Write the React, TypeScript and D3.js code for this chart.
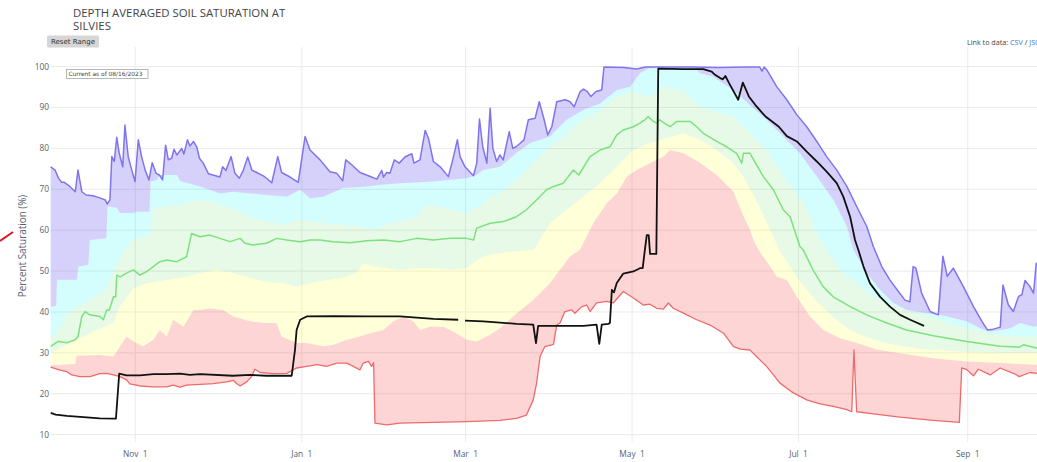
import React, { useRef, useEffect } from 'react';
import * as d3 from 'd3';

// x = day of water year (0 = Oct 1), y = percent saturation
const maxSeries: [number, number][] = [
  [0, 75.5], [1.6, 74.7], [2.8, 72.8], [4, 71.7], [5, 71.7], [7, 70.7], [9, 69.4], [10, 74.7], [11.4, 69.4], [13, 68.6],
  [15.5, 68.4], [18, 67.9], [20, 67.4], [20.7, 66.4], [21.7, 67.4], [22.4, 78], [23.3, 76.8], [24.2, 82.7], [25.1, 78.8], [26.4, 75.5],
  [27.2, 85.7], [28.4, 78], [29.7, 74.7], [30.9, 71.9], [32.1, 82.1], [33.3, 78], [34.6, 74.7], [36, 72.3], [37.2, 76.5], [38.6, 73.9],
  [39.8, 73.5], [41, 72.3], [42.1, 80.8], [43.1, 77.2], [44.3, 77.6], [45.2, 79.8], [46.2, 78.4], [48, 80], [48.8, 78.6], [50.1, 82.1],
  [51, 80.6], [52.3, 81.7], [53.5, 80.4], [54.5, 77.6], [55.9, 76.4], [57.8, 73.8], [62, 73], [63, 75.5], [64.2, 74.6], [66.1, 78],
  [67.5, 73.9], [69.1, 72.7], [70.6, 74.7], [72.2, 77.9], [73.7, 74.7], [75.5, 74.1], [77.9, 73.3], [79.1, 72.7], [81, 71.6], [83.2, 78],
  [84.6, 74.1], [87.7, 73], [90.7, 71.7], [93.2, 82.9], [95, 79.6], [98.7, 77.2], [102.3, 74.3], [104.8, 73.9], [107, 72.1], [108.1, 77.2],
  [110.3, 76], [113.3, 74.1], [116.4, 73.3], [119.5, 72.5], [121.3, 74.6], [121.9, 73], [123.1, 74.1], [124.3, 73.9], [125.9, 77.2], [127.7, 76.4],
  [129.8, 77.9], [132.3, 78.7], [133.1, 76.4], [135.3, 77.2], [137.2, 84.4], [138.4, 82.5], [140.2, 76.8], [142.7, 75.5], [145.7, 73.1], [147.3, 77.2],
  [149, 82.1], [150, 78], [151.8, 75.5], [154.9, 73.3], [156.1, 76.4], [157.1, 87.2], [158.3, 80.4], [159.8, 76.4], [161, 89.8], [162, 80],
  [163.4, 76.8], [164.6, 78.4], [165.8, 77.2], [168, 84.1], [169.3, 80], [170.5, 80.4], [171.9, 81.2], [173.4, 82.1], [175, 87], [177.5, 87.4],
  [179, 91.4], [180.8, 87], [182.1, 83.3], [183.6, 85.3], [185.4, 91.4], [188.5, 91.9], [190.3, 91.4], [191.8, 90.2], [194, 93.9], [195.2, 94.5],
  [196.6, 93.9], [197.9, 92.7], [199.8, 93.9], [201.9, 94.3], [202.7, 99.9], [210, 99.8], [214.7, 99.4], [218, 99.9], [235, 99.9], [245, 99.8],
  [255, 99.9], [259.8, 99.9], [260.6, 98.9], [261.4, 99.9], [262.4, 99.2], [266, 95.1], [269.7, 91.9], [273.4, 88.2], [277, 85.3], [280.7, 81.7],
  [284.3, 78], [288, 74.7], [291.7, 70.7], [295.3, 65.8], [299, 60.9], [301.4, 56], [304.5, 51.1], [307.5, 47.8], [310.6, 45], [313, 42.9],
  [314.8, 42.5], [316, 51.1], [317, 50.7], [319.1, 44.6], [322.2, 40.1], [325.2, 39.3], [326.9, 53.6], [328.5, 48.7], [330.7, 50.7], [334.4, 46.2],
  [338.1, 41.3], [341.2, 37.7], [343.2, 35.6], [345.4, 35.8], [347.9, 36.3], [348.9, 46.6], [350.9, 41.7], [352.7, 40.1], [354.6, 43.8], [355.8, 44.2],
  [357, 47.7], [358.8, 46.2], [360.1, 44.6], [361.1, 51.9], [363, 50.5], [365, 49],
];

const p90Series: [number, number][] = [
  [0, 41.3], [2, 41.5], [2.3, 47.9], [9.6, 47.9], [10.1, 51.1], [13.8, 51.5], [14.3, 57.6], [20.4, 58], [20.8, 65.8], [24.2, 65.5],
  [25.4, 64.2], [30.2, 64.2], [31.6, 64.5], [36.2, 64.5], [36.6, 71.9], [38.9, 72.3], [40, 73.5], [46.3, 73.5], [47.4, 72], [54.7, 70.7],
  [58.3, 69.9], [62, 69], [66.9, 69.4], [73, 69], [79.1, 68.6], [86.5, 68.2], [91.4, 69.9], [95, 67.8], [99.9, 68.2], [107.1, 70.3],
  [115.8, 70.7], [120.7, 71.1], [128, 71.5], [140.2, 71.9], [152.4, 72.7], [156.1, 73.5], [158.5, 74.7], [164.6, 75.5], [170.5, 78.8], [175.7, 81.3],
  [182.9, 82.9], [189, 87], [195.1, 89.4], [201.3, 91], [207.4, 94.3], [212.3, 95.1], [215.9, 98.4], [219.6, 99.8], [236, 99.7], [237.9, 98.4],
  [242.6, 97.6], [250, 94.3], [256.2, 90.6], [262.3, 87], [268.4, 82.9], [274.5, 78.8], [280.7, 73.1], [286.8, 67.4], [291.7, 60.9], [294.1, 55.2],
  [299, 49.5], [303.9, 45.4], [308.8, 42.2], [313.6, 40.5], [320.9, 39.7], [325.8, 39.3], [330.7, 38.5], [335.6, 37.7], [340.5, 36], [344.2, 35.2],
  [347.9, 35.6], [351.5, 36], [355.2, 37.3], [360.1, 36.4], [365, 37],
];

const p70Series: [number, number][] = [
  [0, 33.5], [2.8, 35.6], [5.9, 39.7], [9.5, 41.3], [13.2, 42.5], [16.9, 43.7], [20.5, 45.8], [23, 50], [26, 54], [29, 57],
  [32, 58.3], [36.5, 58.5], [37.5, 65.5], [45, 66], [54.7, 67.4], [60.8, 66.6], [66.9, 65], [73, 63.3], [79.1, 62.1], [85.2, 61.3],
  [90.1, 62.5], [95, 62.1], [101.1, 61.7], [107.1, 61.3], [113.3, 60.9], [119.4, 60.1], [123.1, 61.7], [128, 62.1], [134.1, 63.3], [137.8, 66.2],
  [142.6, 65.8], [147.5, 65], [152.4, 64.2], [157.3, 65.8], [160.9, 68.2], [164.6, 69], [170.7, 72.3], [176.8, 76.4], [182.9, 80.4], [189, 83.7],
  [195.1, 87], [201.3, 89.4], [207.4, 92.7], [213.5, 93.9], [219.6, 92.7], [225.7, 95.1], [231.8, 94], [237.9, 90.2], [250.1, 87.8], [256.2, 83.7],
  [262.3, 79.6], [268.4, 73.1], [274.5, 68.2], [278.2, 63.3], [281.9, 57.6], [284.3, 55.2], [289.2, 50.3], [296.5, 46.2], [303.9, 43], [311.2, 40.9],
  [323.4, 38.5], [335.6, 36], [347.9, 34.2], [360.1, 34], [365, 34],
];

const medianSeries: [number, number][] = [
  [0, 31.6], [2.8, 32.8], [6, 32.5], [9, 33.2], [10, 34], [11.4, 38.9], [12.6, 40.1], [14.4, 39.3], [18, 38.9], [19.3, 38.1],
  [20.5, 40.5], [21.5, 40.5], [23, 43.7], [23.8, 43.7], [24.2, 49], [25.4, 48.6], [27.8, 49.5], [30.3, 50.3], [32.7, 49], [35.2, 49.9],
  [37.6, 51.1], [40, 52.3], [42.5, 52.7], [46.2, 52.3], [49.8, 53.5], [51.6, 59.2], [54.7, 58.4], [58.3, 58.8], [62, 58], [65.7, 57.2],
  [69.4, 58], [71.2, 56.8], [74.2, 56.4], [79.1, 56.8], [82.8, 58], [86.5, 57.6], [91.4, 57.2], [95, 57.6], [98.7, 57.6], [103.5, 57.2],
  [109.7, 56.9], [115.8, 57.4], [121.9, 57.6], [128, 57.2], [134.1, 58], [140.2, 57.6], [146.3, 58], [152.4, 58], [154.9, 57.6], [156.1, 60.5],
  [161, 61.7], [165.8, 62.1], [170.7, 63.3], [174.3, 65], [178, 67.4], [181.7, 69.9], [184.2, 70.7], [187.8, 71.5], [191.5, 74.7], [193.5, 73.5],
  [197.6, 78], [201.3, 79.6], [204.9, 80.4], [207.4, 83.3], [209.8, 84.5], [213.5, 85.3], [215.9, 86.2], [217.7, 87], [218.9, 87.8], [220.8, 86.6],
  [222, 86.2], [223.2, 87], [224.5, 86.3], [226.9, 85.3], [229.4, 86.6], [231.8, 86.6], [234.3, 86.6], [236.7, 85.3], [239.1, 83.7], [244, 81.7],
  [247.7, 80.4], [251.3, 78.8], [253.2, 76.4], [253.8, 78.8], [256.2, 78.8], [261.1, 73.1], [264.8, 69.9], [268.4, 65], [270.9, 63.3], [274.5, 56],
  [275.7, 55.2], [279.3, 50.3], [283, 46.2], [286.7, 43.7], [292.9, 41.3], [299, 39.3], [306.3, 37.3], [313.6, 35.6], [323.4, 34.2], [335.6, 32.8],
  [347.9, 31.6], [355, 31.4], [356.5, 32], [361.1, 31.2], [365, 31.2],
];

const p30Series: [number, number][] = [
  [0, 30], [9.5, 33.2], [16.9, 35.6], [22.9, 37.3], [25.4, 41.4], [30.3, 45.8], [35.2, 47], [42.5, 47.8], [49.8, 48.6], [54.7, 49.5],
  [60.8, 50.3], [66.8, 49.5], [73, 48.3], [79.1, 47.4], [85.1, 47], [90.1, 46.2], [95, 47], [101.1, 47.8], [107.1, 48.3], [112.1, 49.5],
  [114.5, 52], [118.2, 51.1], [123.1, 50.7], [128, 50.3], [134.1, 50.7], [140.2, 50.7], [146.3, 50.3], [152.4, 50.7], [156.1, 52.7], [159.8, 53.9],
  [164.6, 54.4], [177, 55.2], [183, 61.7], [189, 65], [195.1, 68.2], [201.3, 71.5], [207.4, 75.5], [213.5, 79.6], [219.6, 81.3], [225.7, 82.5],
  [231.8, 83.7], [237.9, 82.1], [244, 79.6], [250.1, 76.4], [253.8, 73], [258, 68], [262.3, 62], [267, 55], [274, 48], [280, 43],
  [287, 38.5], [293, 35.5], [300, 33.5], [307, 32.2], [318, 31], [336, 30.2], [348, 30], [365, 30],
];

const p10Series: [number, number][] = [
  [0, 27], [9, 27.3], [9.5, 29.3], [18.1, 29.5], [22.9, 29.1], [27.8, 34], [30.3, 32.8], [33.9, 31.6], [37.6, 33.2], [40, 35.6],
  [42.5, 34], [44.9, 38.1], [48.6, 36.4], [52.3, 40.5], [54.7, 40.5], [58.4, 40.9], [63.2, 40.5], [66.9, 38.9], [73, 37.7], [79.1, 37.3],
  [82.8, 37.3], [84.6, 34], [90.1, 32.4], [93.8, 32.4], [99.9, 31.6], [103.6, 32], [108.5, 33.2], [113.3, 34], [117, 34.8], [121.9, 35.6],
  [125.5, 37.7], [129.2, 38.9], [132.9, 37.7], [135.3, 35.6], [139, 36.4], [143.9, 36.4], [147.5, 35.2], [152.4, 33.2], [156.1, 32.8], [161, 34.4],
  [164.6, 36], [170.8, 39.7], [176.8, 42.9], [182.9, 47], [186.6, 50.3], [190.3, 53.6], [193.9, 55.2], [198.8, 61.7], [203.7, 66.6], [207.4, 69],
  [211.1, 73.1], [214.7, 74.7], [219.6, 76.4], [224.5, 78], [226.9, 79.6], [231.8, 78.8], [237.9, 76.5], [244, 73.5], [250.1, 69.5], [253.8, 63.5],
  [256.3, 60], [257.5, 57.6], [259.3, 55.2], [263.6, 51.1], [266, 48.7], [269.7, 47.8], [273.4, 43.7], [278.2, 38.9], [283.1, 35.6], [289.2, 33.6],
  [295.3, 32.4], [302.6, 30.8], [311.2, 29.9], [323.4, 28.7], [335.6, 27.9], [347.9, 27.5], [361.3, 27.1], [365, 27],
];

const minSeries: [number, number][] = [
  [0, 26.5], [3.4, 25.8], [5.9, 25.4], [7.7, 24.6], [10.7, 24.2], [14.4, 24.2], [18, 24.9], [20.5, 25], [23, 24.6], [25.4, 24.2],
  [27.8, 23.4], [29, 22.4], [32.7, 21.9], [37.6, 21.7], [42.5, 21.7], [44.9, 22.1], [47.4, 21.6], [49.8, 22.1], [54.7, 22.3], [59.6, 22.5],
  [64.5, 22.9], [66.9, 23.3], [68.1, 22.5], [69.4, 21.9], [71.8, 22.9], [73.6, 24.2], [74.8, 26], [76.7, 25.2], [81.6, 24.9], [86.5, 25],
  [90.1, 26.3], [93.8, 26.7], [97.5, 27.1], [101.1, 26.7], [104.8, 27.5], [108.5, 27.5], [110.9, 26.7], [113.3, 25.8], [114.5, 27.5], [116.4, 27.9],
  [117.6, 26.7], [118.3, 27.6], [118.8, 12.8], [123.1, 12.4], [128, 12.8], [140.2, 13], [152.4, 13.2], [164.6, 13.5], [170.7, 14], [174.3, 14.8],
  [176.8, 18.5], [178, 22.5], [179.3, 29.1], [181.1, 31.6], [184.2, 32], [185.4, 36.8], [186.6, 37.3], [188.4, 40.1], [190.9, 40.5], [192.1, 39.7],
  [194.6, 41.3], [196.4, 41.7], [197.6, 40.1], [200, 42.2], [203.7, 42.6], [206.1, 42.2], [209.8, 45], [213.5, 43.4], [217.1, 41.7], [219.6, 41.9],
  [222, 40.9], [224.5, 40.7], [226.3, 42.2], [228.1, 40.9], [231.8, 39.7], [236.7, 38.1], [241.6, 36.8], [246.5, 34.8], [250.1, 31.6], [252.6, 30.9],
  [256.2, 30.7], [262.3, 26.7], [267.2, 22.6], [272.1, 20.2], [277, 18.5], [281.9, 17.5], [286.8, 16.9], [291.7, 16.1], [293.5, 15.6], [294.3, 30.7],
  [295.3, 15.6], [301.4, 15.1], [311.2, 14.3], [323.4, 13.5], [332.9, 13], [333.8, 26.3], [335.6, 25.9], [338.1, 24.4], [339.9, 26], [344.2, 24.6],
  [347.9, 26.3], [352.7, 25], [354.9, 24.2], [358.8, 25.2], [361.1, 25], [365, 25.5],
];

// water year 2023, null = missing reading
const currentSeries: [number, number | null][] = [
  [0, 15.3], [1.8, 14.9], [5.9, 14.6], [12, 14.3], [18, 14], [23.9, 13.9], [25.1, 24.9], [27.8, 24.5], [32.7, 24.5], [37.6, 24.8],
  [42.5, 24.8], [47.4, 24.9], [51, 24.6], [54.7, 24.8], [66.7, 24.4], [73, 24.6], [79.1, 24.4], [88.3, 24.4], [89.5, 30.7], [90.1, 35.6],
  [91.4, 38.1], [93.8, 38.9], [103.5, 39], [115.8, 38.9], [128, 38.9], [140.2, 38.3], [149.3, 38.1], [150.5, null], [151.8, 37.9], [158.5, 37.7],
  [170.7, 37.1], [176.8, 36.9], [177.8, 32.4], [178.6, 36.6], [183, 36.6], [195.2, 36.6], [200, 36.9], [201, 32.2], [201.9, 36.9], [204.3, 37.1],
  [204.9, 37.3], [205.6, 45.4], [206.4, 44.8], [207.4, 47.1], [209.8, 49.4], [213.5, 49.9], [215.9, 50.7], [216.9, 50.7], [217.7, 55.2], [218.4, 58.8],
  [219.1, 58.8], [219.6, 54.2], [221.9, 54.2], [222.6, 99.5], [231.8, 99.4], [239.1, 99.4], [242.2, 98.8], [243.4, 98], [245.3, 97.2], [246.2, 96.9],
  [247.2, 97.7], [248.6, 95.9], [251.9, 91.9], [253.6, 96.1], [255.8, 92.7], [258.2, 90.6], [261.9, 87.8], [264.3, 86.6], [266.8, 85.3], [269.7, 83],
  [273.4, 81.7], [277, 79.2], [280.7, 76.8], [284.3, 74.3], [288, 71.5], [290.4, 68.2], [292.9, 63.3], [294.7, 57.6], [295.9, 55.2], [297.8, 51.1],
  [300.2, 47], [303.9, 43.7], [307.5, 41.3], [311.2, 39.3], [314.9, 38.1], [320, 36.6],
];

const xTicks = ['1999-11-01', '2000-01-01', '2000-03-01', '2000-05-01', '2000-07-01', '2000-09-01'];
const yTicks = [10, 20, 30, 40, 50, 60, 70, 80, 90, 100];

const START = Date.UTC(1999, 9, 1);
const toDate = (d: number) => new Date(START + d * 864e5);

const App = () => {
  const svgRef = useRef<SVGSVGElement>(null);

  useEffect(() => {
    const svg = d3.select(svgRef.current);
    svg.selectAll('*').remove();

    const left = 50.7, right = 1046.9, top = 47, bottom = 442;
    const x = d3.scaleUtc().domain([toDate(0), toDate(365)]).range([left, right]);
    const y = d3.scaleLinear().domain([8.2, 104.8]).range([bottom, top]);
    const parse = d3.utcParse('%Y-%m-%d');
    const fmt = d3.utcFormat('%b %e');
    const tickColor = '#5a6270';

    // grid
    svg.append('g').selectAll('line').data(yTicks).enter().append('line')
      .attr('x1', left).attr('x2', right)
      .attr('y1', d => y(d)).attr('y2', d => y(d))
      .attr('stroke', '#ebebeb').attr('stroke-width', 1);
    svg.append('g').selectAll('line').data(xTicks).enter().append('line')
      .attr('x1', d => x(parse(d)!)).attr('x2', d => x(parse(d)!))
      .attr('y1', top).attr('y2', bottom)
      .attr('stroke', '#ebebeb').attr('stroke-width', 1);

    const line = d3.line<[number, number | null]>()
      .defined(d => d[1] !== null)
      .x(d => x(toDate(d[0])))
      .y(d => y(d[1] as number));

    // bands between neighbouring percentiles
    const bands: [[number, number][], [number, number][], string][] = [
      [minSeries, p10Series, 'rgba(250,30,30,0.19)'],
      [p10Series, p30Series, 'rgba(255,255,60,0.2)'],
      [p30Series, p70Series, 'rgba(40,210,40,0.11)'],
      [p70Series, p90Series, 'rgba(0,245,245,0.17)'],
      [p90Series, maxSeries, 'rgba(100,85,240,0.27)'],
    ];
    bands.forEach(([lo, hi, fill]) => {
      svg.append('path')
        .attr('d', line([...hi, ...lo.slice().reverse()]) + 'Z')
        .attr('fill', fill);
    });

    const lines: [[number, number | null][], string, number][] = [
      [minSeries, '#ef6a6a', 1.3],
      [medianSeries, '#7de27d', 1.5],
      [maxSeries, '#8074ec', 1.5],
      [currentSeries, '#111111', 1.8],
    ];
    lines.forEach(([s, c, w]) => {
      svg.append('path').attr('d', line(s)).attr('fill', 'none')
        .attr('stroke', c).attr('stroke-width', w).attr('stroke-linejoin', 'round');
    });

    // axes labels
    svg.append('g').selectAll('text').data(yTicks).enter().append('text')
      .attr('x', 49).attr('y', d => y(d)).attr('dy', '0.35em')
      .attr('text-anchor', 'end').attr('font-family', '"Open Sans", sans-serif')
      .attr('font-size', 8.4).attr('fill', tickColor).text(d => d);
    svg.append('g').selectAll('text').data(xTicks).enter().append('text')
      .attr('x', d => x(parse(d)!)).attr('y', 457)
      .attr('text-anchor', 'middle').attr('font-family', '"Open Sans", sans-serif')
      .attr('font-size', 8.4).attr('fill', tickColor).style('white-space', 'pre')
      .text(d => fmt(parse(d)!));

    svg.append('text')
      .attr('transform', 'translate(25.5,246) rotate(-90)')
      .attr('text-anchor', 'middle').attr('font-family', '"Open Sans", sans-serif')
      .attr('font-size', 9.9).attr('fill', tickColor).text('Percent Saturation (%)');

    // title
    const title = svg.append('text').attr('font-family', '"Open Sans", sans-serif')
      .attr('font-size', 11.4).attr('fill', '#444');
    title.append('tspan').attr('x', 73).attr('y', 16.5).text('DEPTH AVERAGED SOIL SATURATION AT');
    title.append('tspan').attr('x', 73).attr('y', 29.5).text('SILVIES');

    // reset button
    svg.append('rect').attr('x', 47).attr('y', 35.5).attr('width', 52).attr('height', 12)
      .attr('rx', 1.5).attr('fill', '#d6d6d6');
    svg.append('text').attr('x', 73).attr('y', 44.3).attr('text-anchor', 'middle')
      .attr('font-family', '"DejaVu Sans", sans-serif').attr('font-size', 7)
      .attr('fill', '#333').text('Reset Range');

    // as-of annotation
    svg.append('rect').attr('x', 66.5).attr('y', 69.5).attr('width', 81.5).attr('height', 9)
      .attr('fill', '#fff').attr('stroke', '#999').attr('stroke-width', 0.7);
    svg.append('text').attr('x', 68.5).attr('y', 76.4)
      .attr('font-family', '"DejaVu Sans", sans-serif').attr('font-size', 5.9)
      .attr('fill', '#444').text('Current as of 08/16/2023');

    // data link (runs past the right edge, as on the page)
    const link = svg.append('text').attr('x', 967).attr('y', 45)
      .attr('font-family', '"Open Sans", sans-serif').attr('font-size', 7.2).attr('fill', '#444');
    link.append('tspan').text('Link to data: ');
    link.append('tspan').attr('fill', '#3b78c9').text('CSV');
    link.append('tspan').text(' / ');
    link.append('tspan').attr('fill', '#3b78c9').text('JSON');

    // stray red stroke at left edge
    svg.append('line').attr('x1', 0).attr('y1', 241).attr('x2', 13).attr('y2', 232)
      .attr('stroke', '#e3141c').attr('stroke-width', 2);
  }, []);

  return (
    <div style={{ position: 'absolute', left: 0, top: 0, width: 1037, height: 462, overflow: 'hidden', background: '#fff' }}>
      <svg ref={svgRef} width={1060} height={462} style={{ display: 'block' }}></svg>
    </div>
  );
};

export default App;
